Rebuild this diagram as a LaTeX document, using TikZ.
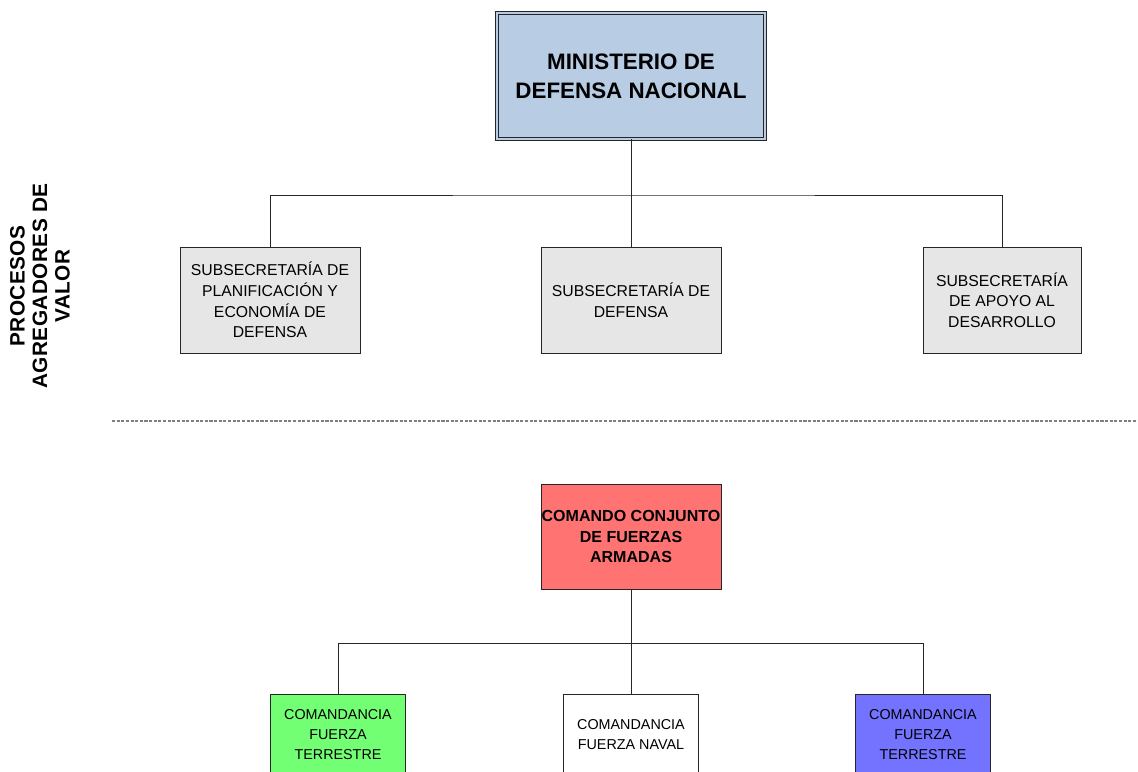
\documentclass[tikz,border=0pt]{standalone}
\usepackage{fontspec}
\setmainfont{Liberation Sans}
\usepackage{xcolor}
\definecolor{minblue}{HTML}{B8CCE4}
\definecolor{subgray}{HTML}{E6E6E6}
\definecolor{ccred}{HTML}{FF7373}
\definecolor{ftgreen}{HTML}{73FF73}
\definecolor{ftblue}{HTML}{7373FF}
\usetikzlibrary{positioning}

\begin{document}
\begin{tikzpicture}[x=0.025cm,y=-0.025cm,
        box/.style={draw=black!85,line width=0.6pt,inner sep=0pt,align=center},
        subbox/.style={box,fill=subgray,minimum height=2.65cm,font=\fontsize{11.2}{14.6}\selectfont},
        cmdbox/.style={box,minimum width=3.375cm,minimum height=2cm,anchor=north,font=\fontsize{10.2}{14.2}\selectfont},
        link/.style={draw=black!85,line width=0.6pt}]
        \path[use as bounding box,clip] (0,0) rectangle (1138,771);

        % Ministry
        \node[box,fill=minblue,double=minblue,double distance=1.6pt,minimum width=6.68cm,minimum height=3.15cm,
              font=\fontsize{15.9}{20.6}\selectfont\bfseries] (mdn) at (631,76) {MINISTERIO DE\\DEFENSA NACIONAL};

        % Undersecretariats
        \node[subbox,minimum width=4.5cm] (spe) at (270,300) {SUBSECRETARÍA DE\\PLANIFICACIÓN Y\\ECONOMÍA DE\\DEFENSA};
        \node[subbox,minimum width=4.5cm] (sd) at (631,300) {SUBSECRETARÍA DE\\DEFENSA};
        \node[subbox,minimum width=3.95cm] (sad) at (1002,300) {SUBSECRETARÍA\\DE APOYO AL\\DESARROLLO};

        % Side label
        \node[rotate=90,align=center,font=\fontsize{14.8}{16}\selectfont\bfseries\addfontfeatures{LetterSpace=2}] (pav) at (40,286) {PROCESOS\\AGREGADORES DE\\VALOR};

        % Separator
        \coordinate (sepL) at (112,421);
        \coordinate (sepR) at (1138,421);
        \draw[gray,line width=0.8pt,dash pattern=on 2.2pt off 1.1pt] (sepL) -- (sepR);

        % Joint command
        \node[box,fill=ccred,minimum width=4.5cm,minimum height=2.625cm,
              font=\fontsize{11.4}{14.6}\selectfont\bfseries] (ccffaa) at (631,536.5) {COMANDO CONJUNTO\\DE FUERZAS\\ARMADAS};

        % Force commands
        \node[cmdbox,fill=ftgreen] (cft1) at (338,694) {COMANDANCIA\\FUERZA\\TERRESTRE};
        \node[cmdbox,fill=white] (cfn) at (631,694) {COMANDANCIA\\FUERZA NAVAL};
        \node[cmdbox,fill=ftblue] (cft2) at (923,694) {COMANDANCIA\\FUERZA\\TERRESTRE};

        % Lines
        \coordinate (bus1) at (631,195);
        \coordinate (bus2) at (631,643);
        \draw[link] (mdn.south) -- (sd.north);
        \draw[link] (spe.north) |- (bus1) -| (sad.north);
        \draw[link] (ccffaa.south) -- (cfn.north);
        \draw[link] (cft1.north) |- (bus2) -| (cft2.north);
    \end{tikzpicture}
\end{document}
